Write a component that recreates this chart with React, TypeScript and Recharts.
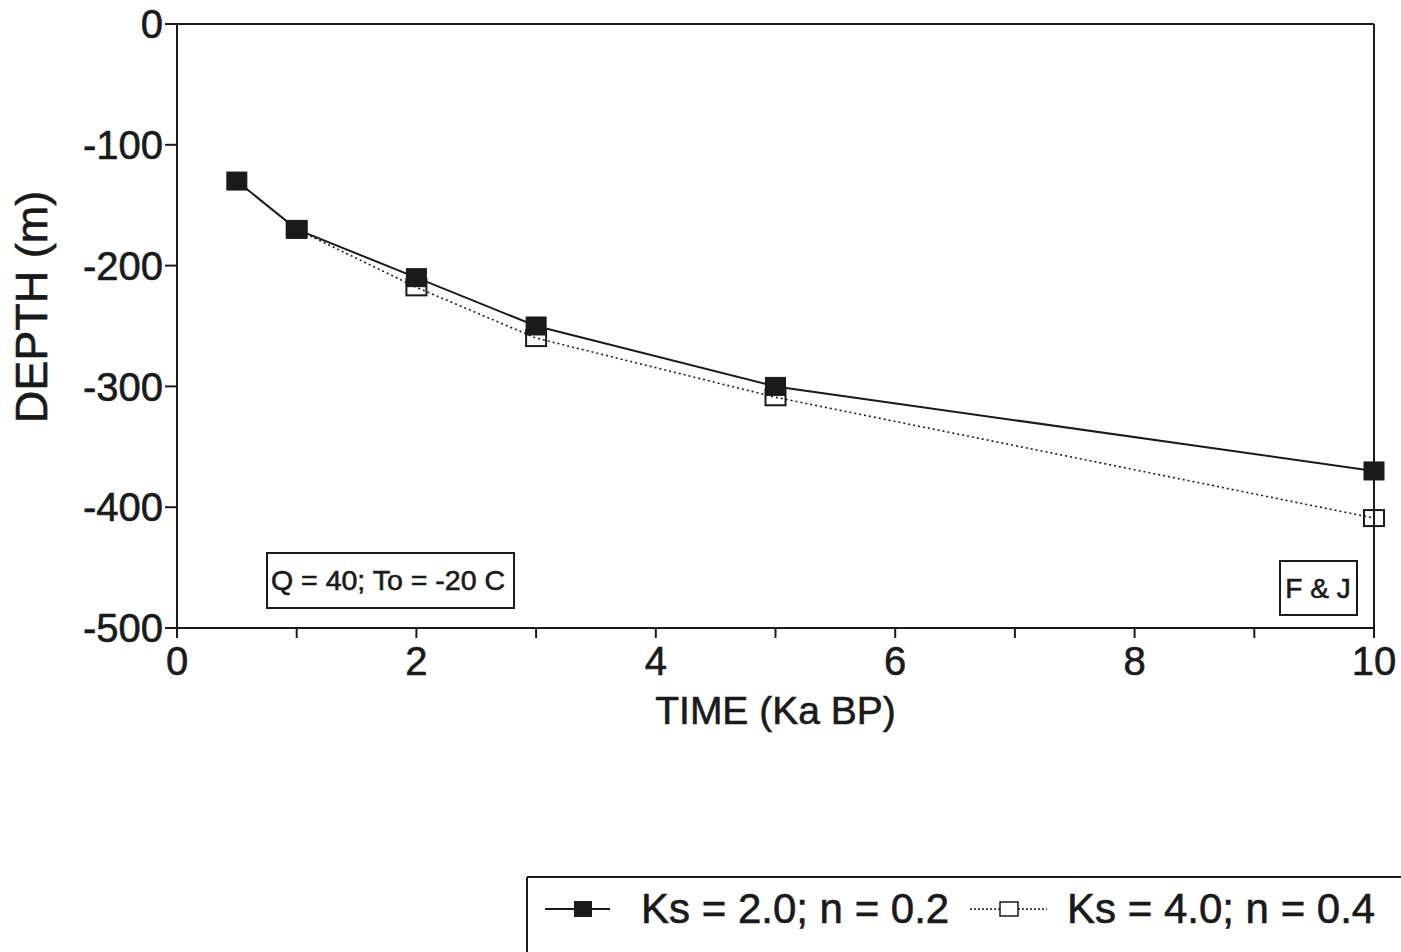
import React from 'react';
import { LineChart, Line, XAxis, YAxis, ReferenceLine } from 'recharts';

// Time in Ka BP and modelled depth in metres
const timeKs2 = [0.5, 1, 2, 3, 5, 10];
const depthKs2 = [-130, -170, -210, -250, -300, -370];
const timeKs4 = [1, 2, 3, 5, 10];
const depthKs4 = [-170, -218, -260, -309, -409];

const xTicks = [0, 1, 2, 3, 4, 5, 6, 7, 8, 9, 10];
const yTicks = [-500, -400, -300, -200, -100, 0];

const seriesKs2 = timeKs2.map((t, i) => ({ time: t, depth: depthKs2[i] }));
const seriesKs4 = timeKs4.map((t, i) => ({ time: t, depth: depthKs4[i] }));

const INK = '#1a1a1a';
const FONT = '"Liberation Sans", Arial, Helvetica, sans-serif';
const thick = { stroke: INK, strokeWidth: 0.6 };

const FilledSquare = (props: any) => {
  const { cx, cy, index } = props;
  if (cx == null || cy == null) return <g key={`f-${index}`} />;
  return <rect key={`f-${index}`} x={cx - 10} y={cy - 9} width={20} height={18} fill={INK} stroke={INK} strokeWidth={1} />;
};

const OpenSquare = (props: any) => {
  const { cx, cy, index } = props;
  if (cx == null || cy == null) return <g key={`o-${index}`} />;
  return <rect key={`o-${index}`} x={cx - 10} y={cy - 8} width={20} height={16} fill="none" stroke={INK} strokeWidth={2} />;
};

const DepthLabel = () => (
  <text
    x={47}
    y={307}
    transform="rotate(-90, 47, 307)"
    textAnchor="middle"
    fontFamily={FONT}
    fontSize={45}
    fill={INK}
    {...thick}
  >
    DEPTH (m)
  </text>
);

const App: React.FC = () => {
  return (
    <div style={{ position: 'absolute', left: 0, top: 0, width: 1401, height: 952, background: '#fff', fontFamily: FONT }}>
      <LineChart width={1401} height={952} margin={{ top: 24, right: 27, left: 0, bottom: 224 }}>
        <XAxis
          type="number"
          dataKey="time"
          domain={[0, 10]}
          ticks={xTicks}
          interval={0}
          tickFormatter={(v: number) => (v % 2 === 0 ? String(v) : '')}
          tickSize={10}
          tickMargin={9}
          height={100}
          stroke={INK}
          strokeWidth={2}
          tick={{ fill: INK, fontSize: 40, fontFamily: FONT, ...thick }}
          label={{ value: 'TIME (Ka BP)', position: 'insideBottom', offset: 4, fill: INK, fontSize: 39, fontFamily: FONT, ...thick }}
          allowDuplicatedCategory={false}
        />
        <YAxis
          type="number"
          dataKey="depth"
          domain={[-500, 0]}
          ticks={yTicks}
          interval={0}
          tickSize={12}
          tickMargin={2}
          width={177}
          stroke={INK}
          strokeWidth={2}
          tick={{ fill: INK, fontSize: 40, fontFamily: FONT, ...thick }}
          label={{ content: <DepthLabel /> }}
        />
        <ReferenceLine y={0} stroke={INK} strokeWidth={2} />
        <ReferenceLine x={10} stroke={INK} strokeWidth={2} />
        <Line
          data={seriesKs4}
          dataKey="depth"
          type="linear"
          stroke={INK}
          strokeWidth={1.6}
          strokeDasharray="2 3"
          dot={<OpenSquare />}
          isAnimationActive={false}
        />
        <Line
          data={seriesKs2}
          dataKey="depth"
          type="linear"
          stroke={INK}
          strokeWidth={2}
          dot={<FilledSquare />}
          isAnimationActive={false}
        />
      </LineChart>

      {/* parameter boxes inside the plot */}
      <svg style={{ position: 'absolute', left: 266, top: 552 }} width={250} height={58}>
        <rect x={1} y={1} width={247} height={55} fill="none" stroke={INK} strokeWidth={2} />
        <text x={5} y={38} fontFamily={FONT} fontSize={28} fill={INK} {...thick} textLength={234} lengthAdjust="spacingAndGlyphs">
          Q = 40; To = -20 C
        </text>
      </svg>
      <svg style={{ position: 'absolute', left: 1279, top: 560 }} width={80} height={57}>
        <rect x={1} y={1} width={77} height={54} fill="none" stroke={INK} strokeWidth={2} />
        <text x={39} y={38} textAnchor="middle" fontFamily={FONT} fontSize={28} fill={INK} {...thick}>
          F &amp; J
        </text>
      </svg>

      {/* legend */}
      <svg style={{ position: 'absolute', left: 526, top: 876 }} width={875} height={76}>
        <line x1={1} y1={1} x2={875} y2={1} stroke={INK} strokeWidth={2} />
        <line x1={1} y1={1} x2={1} y2={76} stroke={INK} strokeWidth={2} />
        <line x1={19} y1={33} x2={84} y2={33} stroke={INK} strokeWidth={2} />
        <rect x={48} y={25} width={18} height={16} fill={INK} />
        <text x={115} y={47} fontFamily={FONT} fontSize={42} fill={INK} {...thick}>Ks = 2.0; n = 0.2</text>
        <line x1={444} y1={33} x2={521} y2={33} stroke={INK} strokeWidth={1.5} strokeDasharray="2 2" />
        <rect x={474} y={26} width={18} height={14} fill="#fff" stroke={INK} strokeWidth={1.5} />
        <text x={541} y={47} fontFamily={FONT} fontSize={42} fill={INK} {...thick}>Ks = 4.0; n = 0.4</text>
      </svg>
    </div>
  );
};

export default App;
